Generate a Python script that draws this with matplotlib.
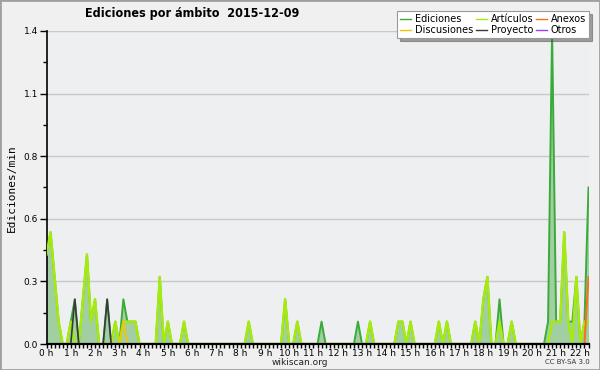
import matplotlib
matplotlib.use("Agg")
import matplotlib.pyplot as plt
from matplotlib.ticker import FixedLocator, MultipleLocator, FuncFormatter
from matplotlib.patches import Rectangle
import numpy as np

# 10-minute bins, hours 0..22:20
ediciones = [
    0.4, 0.5, 0.3, 0.1, 0, 0,      # 0 h
    0.1, 0.2, 0, 0.2, 0.4, 0.1,    # 1 h
    0.2, 0, 0, 0.2, 0, 0.1,        # 2 h
    0, 0.2, 0.1, 0.1, 0.1, 0,      # 3 h
    0, 0, 0, 0, 0.3, 0,            # 4 h
    0.1, 0, 0, 0, 0.1, 0,          # 5 h
    0, 0, 0, 0, 0, 0,              # 6 h
    0, 0, 0, 0, 0, 0,              # 7 h
    0, 0, 0.1, 0, 0, 0,            # 8 h
    0, 0, 0, 0, 0, 0.2,            # 9 h
    0, 0, 0.1, 0, 0, 0,            # 10 h
    0, 0, 0.1, 0, 0, 0,            # 11 h
    0, 0, 0, 0, 0, 0.1,            # 12 h
    0, 0, 0.1, 0, 0, 0,            # 13 h
    0, 0, 0, 0.1, 0.1, 0,          # 14 h
    0.1, 0, 0, 0, 0, 0,            # 15 h
    0, 0.1, 0, 0.1, 0, 0,          # 16 h
    0, 0, 0, 0, 0.1, 0,            # 17 h
    0.2, 0.3, 0, 0, 0.2, 0,        # 18 h
    0, 0.1, 0, 0, 0, 0,            # 19 h
    0, 0, 0, 0, 0.1, 1.4,          # 20 h
    0.1, 0.1, 0.5, 0.1, 0.1, 0.3,  # 21 h
    0, 0.1, 0.7,                   # 22 h
]
articulos = [
    0.4, 0.5, 0.3, 0.1, 0, 0,
    0.1, 0, 0, 0.2, 0.4, 0.1,
    0.2, 0, 0, 0, 0, 0.1,
    0, 0.1, 0.1, 0.1, 0.1, 0,
    0, 0, 0, 0, 0.3, 0,
    0.1, 0, 0, 0, 0.1, 0,
    0, 0, 0, 0, 0, 0,
    0, 0, 0, 0, 0, 0,
    0, 0, 0.1, 0, 0, 0,
    0, 0, 0, 0, 0, 0.2,
    0, 0, 0.1, 0, 0, 0,
    0, 0, 0, 0, 0, 0,
    0, 0, 0, 0, 0, 0,
    0, 0, 0.1, 0, 0, 0,
    0, 0, 0, 0.1, 0.1, 0,
    0.1, 0, 0, 0, 0, 0,
    0, 0.1, 0, 0.1, 0, 0,
    0, 0, 0, 0, 0.1, 0,
    0.2, 0.3, 0, 0, 0.1, 0,
    0, 0.1, 0, 0, 0, 0,
    0, 0, 0, 0, 0, 0.1,
    0.1, 0.1, 0.5, 0.1, 0, 0.3,
    0, 0.1, 0.1,
]
discusiones = [
    0, 0, 0, 0, 0, 0,
    0, 0, 0, 0, 0, 0,
    0, 0, 0, 0, 0, 0,
    0, 0.1, 0, 0, 0, 0,
    0, 0, 0, 0, 0, 0,
    0, 0, 0, 0, 0, 0,
    0, 0, 0, 0, 0, 0,
    0, 0, 0, 0, 0, 0,
    0, 0, 0, 0, 0, 0,
    0, 0, 0, 0, 0, 0,
    0, 0, 0, 0, 0, 0,
    0, 0, 0, 0, 0, 0,
    0, 0, 0, 0, 0, 0,
    0, 0, 0, 0, 0, 0,
    0, 0, 0, 0, 0, 0,
    0, 0, 0, 0, 0, 0,
    0, 0, 0, 0, 0, 0,
    0, 0, 0, 0, 0, 0,
    0, 0, 0, 0, 0, 0,
    0, 0, 0, 0, 0, 0,
    0, 0, 0, 0, 0, 0,
    0, 0, 0, 0, 0, 0,
    0, 0, 0,
]
proyecto = [
    0, 0, 0, 0, 0, 0,
    0, 0.2, 0, 0, 0, 0,
    0, 0, 0, 0.2, 0, 0,
    0, 0, 0, 0, 0, 0,
    0, 0, 0, 0, 0, 0,
    0, 0, 0, 0, 0, 0,
    0, 0, 0, 0, 0, 0,
    0, 0, 0, 0, 0, 0,
    0, 0, 0, 0, 0, 0,
    0, 0, 0, 0, 0, 0,
    0, 0, 0, 0, 0, 0,
    0, 0, 0, 0, 0, 0,
    0, 0, 0, 0, 0, 0,
    0, 0, 0, 0, 0, 0,
    0, 0, 0, 0, 0, 0,
    0, 0, 0, 0, 0, 0,
    0, 0, 0, 0, 0, 0,
    0, 0, 0, 0, 0, 0,
    0, 0, 0, 0, 0, 0,
    0, 0, 0, 0, 0, 0,
    0, 0, 0, 0, 0, 0,
    0, 0, 0, 0, 0, 0,
    0, 0, 0,
]
anexos = [
    0, 0, 0, 0, 0, 0,
    0, 0, 0, 0, 0, 0,
    0, 0, 0, 0, 0, 0,
    0, 0, 0, 0, 0, 0,
    0, 0, 0, 0, 0, 0,
    0, 0, 0, 0, 0, 0,
    0, 0, 0, 0, 0, 0,
    0, 0, 0, 0, 0, 0,
    0, 0, 0, 0, 0, 0,
    0, 0, 0, 0, 0, 0,
    0, 0, 0, 0, 0, 0,
    0, 0, 0, 0, 0, 0,
    0, 0, 0, 0, 0, 0,
    0, 0, 0, 0, 0, 0,
    0, 0, 0, 0, 0, 0,
    0, 0, 0, 0, 0, 0,
    0, 0, 0, 0, 0, 0,
    0, 0, 0, 0, 0, 0,
    0, 0, 0, 0, 0, 0,
    0, 0, 0, 0, 0, 0,
    0, 0, 0, 0, 0, 0,
    0, 0, 0, 0, 0, 0,
    0, 0, 0.3,
]
otros = [
    0, 0, 0, 0, 0, 0,
    0, 0, 0, 0, 0, 0,
    0, 0, 0, 0, 0, 0,
    0, 0, 0, 0, 0, 0,
    0, 0, 0, 0, 0, 0,
    0, 0, 0, 0, 0, 0,
    0, 0, 0, 0, 0, 0,
    0, 0, 0, 0, 0, 0,
    0, 0, 0, 0, 0, 0,
    0, 0, 0, 0, 0, 0,
    0, 0, 0, 0, 0, 0,
    0, 0, 0, 0, 0, 0,
    0, 0, 0, 0, 0, 0,
    0, 0, 0, 0, 0, 0,
    0, 0, 0, 0, 0, 0,
    0, 0, 0, 0, 0, 0,
    0, 0, 0, 0, 0, 0,
    0, 0, 0, 0, 0, 0,
    0, 0, 0, 0, 0, 0,
    0, 0, 0, 0, 0, 0,
    0, 0, 0, 0, 0, 0,
    0, 0, 0, 0, 0, 0,
    0, 0, 0,
]
hour_labels = ["%d h" % h for h in range(23)]
y_tick_values = [0.0, 0.28, 0.56, 0.84, 1.12, 1.4]

title = "Ediciones por ámbito  2015-12-09"
ylabel = "Ediciones/min"

n = len(ediciones)
x = np.arange(n) / 6.0

fig = plt.figure(figsize=(6.0, 3.7), dpi=100, facecolor="#f0f0f0")
ax = fig.add_axes([46.5 / 600, 1 - 344 / 370, (588.5 - 46.5) / 600, (344 - 31) / 370])
ax.set_facecolor("#eeeff1")

ax.fill_between(x, 0, ediciones, color="#a2cfa2", lw=0, zorder=1)
ax.plot(x, ediciones, color="#3aaa3a", lw=1.4, zorder=2, label="Ediciones")
ax.plot(x, articulos, color="#a6ea10", lw=1.8, zorder=3, label="Artículos")
ax.plot(x, anexos, color="#ff6a20", lw=1.4, zorder=3, label="Anexos")
ax.plot(x, discusiones, color="#f5c400", lw=1.2, zorder=3, label="Discusiones")
ax.plot(x, proyecto, color="#3a3a3a", lw=1.2, zorder=4, label="Proyecto")
ax.plot(x, otros, color="#9a40f0", lw=1.2, zorder=3, label="Otros")

ax.set_xlim(0, x[-1])
ax.set_ylim(0, max(ediciones))

ax.yaxis.set_major_locator(FixedLocator(y_tick_values))
ax.yaxis.set_minor_locator(MultipleLocator(0.14))
ax.yaxis.set_major_formatter(FuncFormatter(lambda v, p: "%.1f" % v))
ax.set_xticks(np.arange(len(hour_labels)))
ax.set_xticklabels(hour_labels)
ax.xaxis.set_minor_locator(MultipleLocator(1 / 6.0))

ax.grid(axis="y", which="major", color="#c8c8c8", lw=1.0, zorder=0)
ax.set_axisbelow(True)
for s in ["top", "right"]:
    ax.spines[s].set_visible(False)
ax.spines["left"].set_linewidth(1.2)
ax.spines["bottom"].set_linewidth(1.6)
ax.spines["bottom"].set_zorder(5)
ax.tick_params(axis="y", which="major", labelsize=6.5, colors="black", length=5, width=1.0, pad=1)
ax.tick_params(axis="y", which="minor", length=3, width=1.0)
ax.tick_params(axis="x", which="major", labelsize=6.5, length=3, width=1.0, pad=0.5)
ax.tick_params(axis="x", which="minor", length=3, width=1.0)

fig.text(12 / 600, 1 - 188 / 370, ylabel, rotation=90, ha="center", va="center",
         fontsize=8, family="DejaVu Sans Mono")
fig.text(85 / 600, 1 - 13.5 / 370, title, ha="left", va="center", fontsize=9,
         fontweight="bold", fontstretch="condensed")
fig.text(300 / 600, 1 - 362.5 / 370, "wikiscan.org", ha="center", va="center", fontsize=6.5, color="#222222")
fig.text(590 / 600, 1 - 362.5 / 370, "CC BY-SA 3.0", ha="right", va="center", fontsize=5, color="#333333")

handles, labels = ax.get_legend_handles_labels()
order = ["Ediciones", "Discusiones", "Artículos", "Proyecto", "Anexos", "Otros"]
hmap = dict(zip(labels, handles))
leg = fig.legend([hmap[k] for k in order], order, ncol=3, loc="upper right",
                 bbox_to_anchor=(589 / 600, 1 - 11 / 370), fontsize=7, frameon=True,
                 fancybox=False, shadow=True, handlelength=1.1, handletextpad=0.4,
                 columnspacing=0.3, labelspacing=0.15, borderpad=0.3, borderaxespad=0)
leg.get_frame().set_facecolor("white")
leg.get_frame().set_edgecolor("#999999")
leg.get_frame().set_linewidth(0.8)
for line in leg.get_lines():
    line.set_linewidth(1.0)

fig.patches.append(Rectangle((0, 0), 1, 1, transform=fig.transFigure, fill=False,
                             edgecolor="#a0a0a0", lw=2))

fig.savefig("out.png", dpi=100, facecolor=fig.get_facecolor())
